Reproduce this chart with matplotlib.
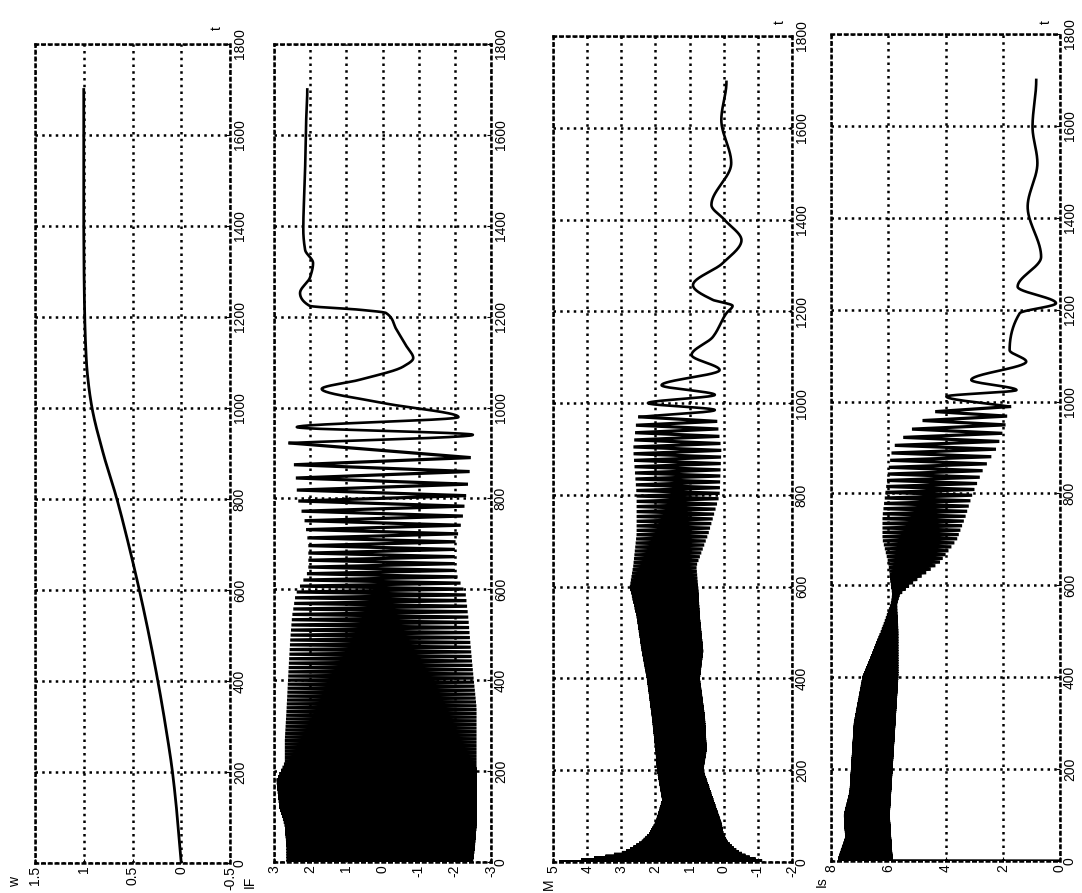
import numpy as np
import matplotlib
matplotlib.use("Agg")
import matplotlib.pyplot as plt

plt.rcParams['font.family'] = ['Liberation Sans', 'DejaVu Sans']

# ---------------- data ----------------
t_ticks = [0, 200, 400, 600, 800, 1000, 1200, 1400, 1600, 1800]
t_labels = ["0", "200", "400", "600", "800", "1000", "1200", "1400", "1600", "1800"]

# w : speed
w_t = [0, 100, 200, 300, 400, 500, 600, 700, 800, 900, 1000, 1050, 1100, 1200, 1300, 1400, 1500, 1600, 1700]
w_v = [0, 0.04, 0.09, 0.16, 0.24, 0.33, 0.43, 0.54, 0.66, 0.80, 0.915, 0.95, 0.972, 0.99, 0.997, 1.0, 1.0, 1.0, 1.0]
w_ticks = [1.5, 1, 0.5, 0, -0.5]
w_ticklabels = ["1.5", "1", "0.5", "0", "-0.5"]

# IF : dense oscillation band (envelope + period), then slow tail
IF_env_t = [0, 30, 80, 120, 180, 220, 270, 340, 420, 490, 540, 590, 640, 700, 750, 800, 850, 900, 920]
IF_up = [2.65, 2.65, 2.7, 2.85, 2.93, 2.7, 2.7, 2.65, 2.6, 2.55, 2.5, 2.4, 2.05, 2.05, 2.15, 2.35, 2.4, 2.5, 2.55]
IF_lo = [-2.5, -2.55, -2.6, -2.6, -2.6, -2.6, -2.6, -2.6, -2.5, -2.42, -2.37, -2.3, -2.0, -2.0, -2.2, -2.3, -2.4, -2.45, -2.5]
IF_per_t = [0, 200, 400, 500, 600, 700, 800, 900]
IF_per = [6, 7, 9, 11, 13, 17, 24, 34]
IF_tail_t = [922, 940, 957, 979, 1010, 1041, 1061, 1090, 1109, 1134, 1171, 1208, 1215, 1224, 1252, 1287, 1318, 1347, 1391, 1523, 1611, 1700]
IF_tail_v = [2.56, -2.5, 2.37, -2.1, -0.02, 1.68, 0.64, -0.57, -0.85, -0.67, -0.39, -0.1, 0.6, 2.02, 2.28, 2.0, 1.92, 2.14, 2.19, 2.14, 2.12, 2.08]
IF_ticks = [3, 2, 1, 0, -1, -2, -3]
IF_ticklabels = ["3", "2", "1", "0", "-1", "-2", "-3"]

# M : torque
M_env_t = [0, 5, 12, 20, 30, 45, 60, 85, 135, 200, 245, 315, 400, 460, 535, 600, 645, 715, 800, 900, 965]
M_up = [4.9, 4.1, 3.5, 3.0, 2.7, 2.4, 2.2, 2.0, 1.8, 1.95, 2.0, 2.1, 2.25, 2.4, 2.55, 2.75, 2.65, 2.55, 2.55, 2.65, 2.55]
M_lo = [-1.25, -1.0, -0.7, -0.5, -0.3, -0.1, 0.0, 0.07, 0.3, 0.6, 0.5, 0.55, 0.7, 0.6, 0.7, 0.75, 0.8, 0.45, 0.12, 0.07, 0.2]
M_per_t = [0, 200, 400, 500, 600, 700, 800, 900, 960]
M_per = [4, 4.5, 5, 6, 7, 9, 12, 15, 17]
M_tail_t = [970, 985, 1000, 1018, 1039, 1072, 1105, 1144, 1196, 1212, 1225, 1257, 1305, 1355, 1399, 1432, 1523, 1617, 1700]
M_tail_v = [2.46, 0.26, 2.22, 0.26, 1.82, 0.12, 0.94, 0.32, -0.08, -0.26, 0.32, 0.9, 0.03, -0.52, -0.03, 0.36, -0.22, 0.07, -0.08]
M_ticks = [5, 4, 3, 2, 1, 0, -1, -2]
M_ticklabels = ["5", "4", "3", "2", "1", "0", "-1", "-2"]

# Is : stator current
Is_env_t = [0, 5, 50, 100, 150, 200, 300, 400, 500, 560, 580, 600, 650, 700, 750, 800, 850, 900, 950, 985]
Is_up = [7.75, 7.75, 7.5, 7.55, 7.35, 7.3, 7.2, 6.9, 6.25, 5.9, 5.85, 5.9, 6.0, 6.2, 6.2, 6.1, 6.0, 5.85, 5.0, 4.2]
Is_lo = [5.85, 5.85, 5.9, 5.95, 5.9, 5.85, 5.75, 5.65, 5.65, 5.7, 5.6, 5.25, 4.2, 3.6, 3.3, 3.05, 2.7, 2.2, 1.9, 1.8]
Is_per_t = [0, 200, 400, 500, 600, 700, 800, 900, 980]
Is_per = [3.5, 4, 5, 6, 7, 9, 12.5, 17, 20]
Is_tail_t = [989, 1011, 1025, 1047, 1087, 1112, 1192, 1214, 1250, 1315, 1424, 1519, 1598, 1700]
Is_tail_v = [1.76, 3.97, 1.52, 3.1, 1.18, 1.76, 1.41, 0.14, 1.48, 0.66, 1.13, 0.79, 0.96, 0.83]
Is_ticks = [8, 6, 4, 2, 0]
Is_ticklabels = ["8", "6", "4", "2", "0"]


# ---------------- helpers ----------------
def pchip(x, y, xs):
    """Shape-preserving cubic curve through the read points (smooth line drawing)."""
    x = np.asarray(x, float)
    y = np.asarray(y, float)
    h = np.diff(x)
    d = np.diff(y) / h
    m = np.zeros_like(y)
    for k in range(1, len(x) - 1):
        if d[k - 1] * d[k] > 0:
            w1 = 2 * h[k] + h[k - 1]
            w2 = h[k] + 2 * h[k - 1]
            m[k] = (w1 + w2) / (w1 / d[k - 1] + w2 / d[k])
    m[0], m[-1] = d[0], 0.0
    i = np.clip(np.searchsorted(x, xs) - 1, 0, len(x) - 2)
    hh = h[i]
    s = (xs - x[i]) / hh
    h00 = 2 * s**3 - 3 * s**2 + 1
    h10 = s**3 - 2 * s**2 + s
    h01 = -2 * s**3 + 3 * s**2
    h11 = s**3 - s**2
    return h00 * y[i] + h10 * hh * m[i] + h01 * y[i + 1] + h11 * hh * m[i + 1]


def smooth(tk, vk):
    ts = np.linspace(tk[0], tk[-1], 1200)
    return ts, pchip(tk, vk, ts)


def band(env_t, up, lo, per_t, per, t_end, first_tail_high, start_val=0.0):
    """Zig-zag between the read envelopes at the read period."""
    ts, vs, flags = [0.0], [start_val], [None]
    t, high = 0.5, True
    while t < t_end:
        ts.append(t)
        vs.append(np.interp(t, env_t, up) if high else np.interp(t, env_t, lo))
        flags.append(high)
        high = not high
        t += np.interp(t, per_t, per) / 2.0
    if flags[-1] == first_tail_high:
        ts.pop(); vs.pop()
    return ts, vs


def draw_signal(ax, env_t, up, lo, per_t, per, t_end, tail_t, tail_v, prefix=None):
    ts, vs = band(env_t, up, lo, per_t, per, t_end, tail_v[0] > tail_v[1])
    ts = ts + [tail_t[0]]
    vs = vs + [tail_v[0]]
    if prefix is not None:
        ts = [prefix[0]] + ts
        vs = [prefix[1]] + vs
    ax.plot(vs, ts, color='black', lw=2.3, solid_joinstyle='miter')
    st, sv = smooth(tail_t, tail_v)
    ax.plot(sv, st, color='black', lw=1.9)


def style_axes(ax, vmax, vmin, vticks, vlabels):
    ax.set_xlim(vmax, vmin)
    ax.set_ylim(0, 1800)
    ax.set_xticks(vticks)
    ax.set_xticklabels(vlabels, rotation=90, fontsize=10)
    ax.yaxis.tick_right()
    ax.set_yticks(t_ticks)
    ax.set_yticklabels(t_labels, rotation=90, va='center', fontsize=10)
    ax.tick_params(direction='in', length=3, width=0.8, pad=2, colors='black')
    ax.grid(True, color='black', linestyle=(0, (1, 1.7)), linewidth=1.8)
    for s in ax.spines.values():
        s.set_linestyle((0, (1, 1.7)))
        s.set_linewidth(1.8)
    ax.set_axisbelow(True)


W, H = 1082, 893
fig = plt.figure(figsize=(W / 100, H / 100), dpi=100)


def add_panel(left, top, right, bottom):
    return fig.add_axes([left / W, (H - bottom) / H, (right - left) / W, (bottom - top) / H])


# panel 1: w
ax1 = add_panel(35, 44, 230, 863)
style_axes(ax1, 1.5, -0.5, w_ticks, w_ticklabels)
wt, wv = smooth(w_t, w_v)
ax1.plot(wv, wt, color='black', lw=2)

# panel 2: IF
ax2 = add_panel(274, 44, 491, 862)
style_axes(ax2, 3, -3, IF_ticks, IF_ticklabels)
draw_signal(ax2, IF_env_t, IF_up, IF_lo, IF_per_t, IF_per, 912, IF_tail_t, IF_tail_v)

# panel 3: M
ax3 = add_panel(553, 36, 792, 862)
style_axes(ax3, 5, -2, M_ticks, M_ticklabels)
draw_signal(ax3, M_env_t, M_up, M_lo, M_per_t, M_per, 962, M_tail_t, M_tail_v)

# panel 4: Is
ax4 = add_panel(831, 34, 1060, 861)
style_axes(ax4, 8, 0, Is_ticks, Is_ticklabels)
draw_signal(ax4, Is_env_t, Is_up, Is_lo, Is_per_t, Is_per, 983, Is_tail_t, Is_tail_v)

# axis names (rotated like the rest of the page)
def ftext(x, y, s):
    fig.text(x / W, 1 - y / H, s, rotation=90, ha='center', va='center', fontsize=10)

ftext(15, 882, "w")
ftext(250, 882, "IF")
ftext(549, 884, "M")
ftext(822, 882, "Is")
ftext(217, 28, "t")
ftext(780, 22, "t")
ftext(1046, 22, "t")

fig.savefig("out.png", dpi=100)
